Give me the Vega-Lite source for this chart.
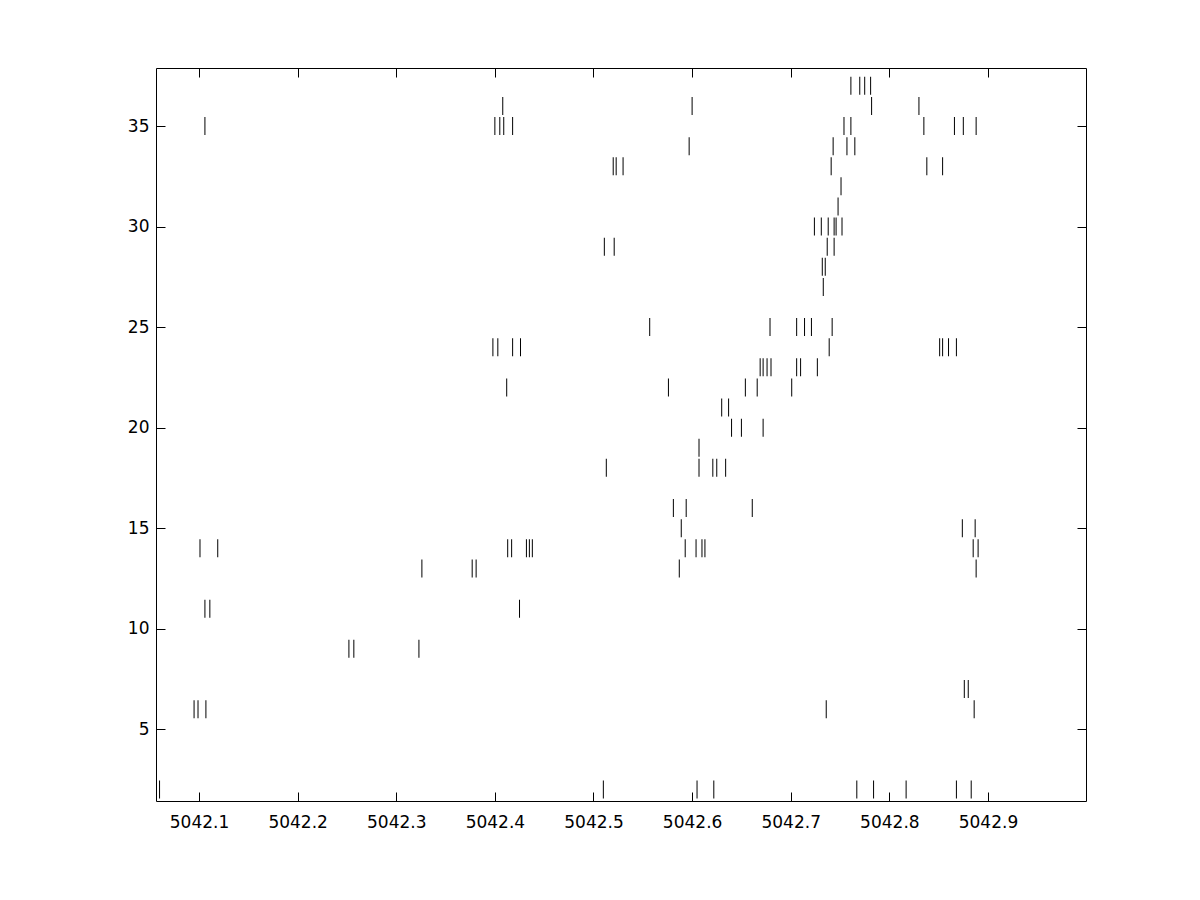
{
  "$schema": "https://vega.github.io/schema/vega-lite/v6.json",
  "width": 930,
  "height": 733,
  "autosize": {"type": "none"},
  "padding": {"left": 156, "top": 68, "right": 114, "bottom": 99},
  "background": "white",
  "config": {
    "view": {"stroke": null},
    "axis": {
      "domainColor": "black", "domainWidth": 1, "tickColor": "black", "tickWidth": 1,
      "tickSize": -9, "grid": false, "labelColor": "black", "labelFont": "DejaVu Sans",
      "labelFontSize": 17, "title": null
    }
  },
  "data": {"values": [
    {"t":5042.761,"r":37},{"t":5042.770,"r":37},{"t":5042.775,"r":37},{"t":5042.781,"r":37},
    {"t":5042.408,"r":36},{"t":5042.600,"r":36},{"t":5042.782,"r":36},{"t":5042.830,"r":36},
    {"t":5042.106,"r":35},{"t":5042.400,"r":35},{"t":5042.405,"r":35},{"t":5042.409,"r":35},{"t":5042.418,"r":35},{"t":5042.754,"r":35},{"t":5042.761,"r":35},{"t":5042.835,"r":35},{"t":5042.866,"r":35},{"t":5042.875,"r":35},{"t":5042.888,"r":35},
    {"t":5042.597,"r":34},{"t":5042.743,"r":34},{"t":5042.757,"r":34},{"t":5042.765,"r":34},
    {"t":5042.520,"r":33},{"t":5042.523,"r":33},{"t":5042.530,"r":33},{"t":5042.741,"r":33},{"t":5042.838,"r":33},{"t":5042.854,"r":33},
    {"t":5042.751,"r":32},
    {"t":5042.748,"r":31},
    {"t":5042.724,"r":30},{"t":5042.731,"r":30},{"t":5042.738,"r":30},{"t":5042.744,"r":30},{"t":5042.746,"r":30},{"t":5042.752,"r":30},
    {"t":5042.511,"r":29},{"t":5042.521,"r":29},{"t":5042.737,"r":29},{"t":5042.744,"r":29},
    {"t":5042.732,"r":28},{"t":5042.735,"r":28},
    {"t":5042.733,"r":27},
    {"t":5042.557,"r":25},{"t":5042.679,"r":25},{"t":5042.706,"r":25},{"t":5042.714,"r":25},{"t":5042.721,"r":25},{"t":5042.742,"r":25},
    {"t":5042.398,"r":24},{"t":5042.403,"r":24},{"t":5042.418,"r":24},{"t":5042.426,"r":24},{"t":5042.739,"r":24},{"t":5042.851,"r":24},{"t":5042.854,"r":24},{"t":5042.860,"r":24},{"t":5042.868,"r":24},
    {"t":5042.669,"r":23},{"t":5042.672,"r":23},{"t":5042.676,"r":23},{"t":5042.680,"r":23},{"t":5042.706,"r":23},{"t":5042.710,"r":23},{"t":5042.727,"r":23},
    {"t":5042.412,"r":22},{"t":5042.576,"r":22},{"t":5042.654,"r":22},{"t":5042.666,"r":22},{"t":5042.701,"r":22},
    {"t":5042.630,"r":21},{"t":5042.637,"r":21},
    {"t":5042.640,"r":20},{"t":5042.650,"r":20},{"t":5042.672,"r":20},
    {"t":5042.607,"r":19},
    {"t":5042.513,"r":18},{"t":5042.607,"r":18},{"t":5042.621,"r":18},{"t":5042.625,"r":18},{"t":5042.634,"r":18},
    {"t":5042.581,"r":16},{"t":5042.594,"r":16},{"t":5042.661,"r":16},
    {"t":5042.589,"r":15},{"t":5042.874,"r":15},{"t":5042.887,"r":15},
    {"t":5042.101,"r":14},{"t":5042.119,"r":14},{"t":5042.413,"r":14},{"t":5042.417,"r":14},{"t":5042.432,"r":14},{"t":5042.435,"r":14},{"t":5042.438,"r":14},{"t":5042.593,"r":14},{"t":5042.604,"r":14},{"t":5042.610,"r":14},{"t":5042.613,"r":14},{"t":5042.885,"r":14},{"t":5042.890,"r":14},
    {"t":5042.326,"r":13},{"t":5042.377,"r":13},{"t":5042.381,"r":13},{"t":5042.587,"r":13},{"t":5042.888,"r":13},
    {"t":5042.106,"r":11},{"t":5042.111,"r":11},{"t":5042.425,"r":11},
    {"t":5042.252,"r":9},{"t":5042.257,"r":9},{"t":5042.323,"r":9},
    {"t":5042.876,"r":7},{"t":5042.880,"r":7},
    {"t":5042.095,"r":6},{"t":5042.099,"r":6},{"t":5042.107,"r":6},{"t":5042.736,"r":6},{"t":5042.886,"r":6},
    {"t":5042.060,"r":2},{"t":5042.510,"r":2},{"t":5042.605,"r":2},{"t":5042.622,"r":2},{"t":5042.767,"r":2},{"t":5042.784,"r":2},{"t":5042.817,"r":2},{"t":5042.868,"r":2},{"t":5042.883,"r":2}
  ]},
  "layer": [
    {
      "mark": {"type": "tick", "orient": "vertical", "size": 18, "thickness": 1, "color": "black", "opacity": 1},
      "encoding": {
        "x": {"field": "t", "type": "quantitative",
              "scale": {"domain": [5042.0564, 5042.9994], "nice": false, "zero": false},
              "axis": {"orient": "bottom", "values": [5042.1,5042.2,5042.3,5042.4,5042.5,5042.6,5042.7,5042.8,5042.9], "format": ".1f", "labelPadding": 22}},
        "y": {"field": "r", "type": "quantitative",
              "scale": {"domain": [1.433, 37.886], "nice": false, "zero": false},
              "axis": {"orient": "left", "values": [5,10,15,20,25,30,35], "format": "d", "labelPadding": 16}}
      }
    },
    {
      "mark": {"type": "tick", "orient": "vertical", "size": 18, "thickness": 1, "color": "black", "opacity": 0},
      "encoding": {
        "x": {"field": "t", "type": "quantitative",
              "axis": {"orient": "top", "values": [5042.1,5042.2,5042.3,5042.4,5042.5,5042.6,5042.7,5042.8,5042.9], "labels": false}},
        "y": {"field": "r", "type": "quantitative",
              "axis": {"orient": "right", "values": [5,10,15,20,25,30,35], "labels": false}}
      }
    }
  ],
  "resolve": {"axis": {"x": "independent", "y": "independent"}}
}
